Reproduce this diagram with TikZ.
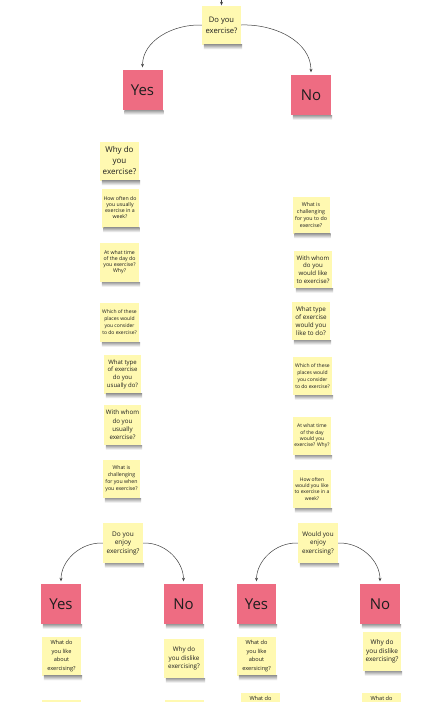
\documentclass[tikz,border=0pt]{standalone}
\usepackage{fontspec}
\setmainfont{Open Sans}
\usetikzlibrary{arrows.meta}
\definecolor{noteyellow}{HTML}{FFF9B1}
\definecolor{notepink}{HTML}{EE6C82}
\definecolor{ink}{HTML}{1E1E1E}
\newcommand\notefs[2]{\fontsize{#1}{#2}\selectfont}
\tikzset{
  note/.style={fill=noteyellow, minimum width=39pt, minimum height=39pt, inner sep=0pt, align=center, text=ink},
  answer/.style={fill=notepink, minimum width=40pt, minimum height=40pt, inner sep=0pt, text=ink, font=\notefs{15}{17}},
  conn/.style={draw=ink!85, line width=0.5pt, -{Stealth[length=3.5pt,width=3pt]}, shorten >=2.5pt},
  shadowbar/.style={top color=black!38, bottom color=white}
}
\begin{document}
\begin{tikzpicture}[x=1pt,y=-1pt]
\useasboundingbox[fill=white] (0,0) rectangle (442,702);

% top question
\node[note, font=\notefs{7.6}{11}] (q1) at (221.5,25) {Do you\\exercise?};
\node[answer] (yes1) at (142.5,90) {Yes};
\node[answer] (no1) at (311,95) {No};
\coordinate (topin) at (221.5,-12);

% left column
\node[note, font=\notefs{8}{11}] (l1) at (119.5,161) {Why do\\you\\exercise?};
\node[note, minimum width=37pt, font=\notefs{5.2}{6}] (l2) at (120,208) {How often do\\you usually\\exercise in a\\week?};
\node[note, font=\notefs{5.2}{6}] (l3) at (119.5,262.5) {At what time\\of the day do\\you exercise?\\Why?};
\node[note, font=\notefs{5}{7}] (l4) at (119.5,322.5) {Which of these\\places would\\you consider\\to do exercise?};
\node[note, minimum width=37pt, font=\notefs{6}{7.7}] (l5) at (122.5,374) {What type\\of exercise\\do you\\usually do?};
\node[note, minimum width=37pt, minimum height=40pt, font=\notefs{6.2}{8.4}] (l6) at (122.5,425) {With whom\\do you\\usually\\exercise?};
\node[note, minimum width=37pt, minimum height=38pt, font=\notefs{5.2}{7}] (l7) at (121.5,479) {What is\\challenging\\for you when\\you exercise?};

% right column
\node[note, minimum width=37pt, minimum height=37pt, font=\notefs{5.3}{7.2}] (r1) at (311,215) {What is\\challenging\\for you to do\\exercise?};
\node[note, minimum width=38pt, minimum height=37pt, font=\notefs{6.1}{7.8}] (r2) at (313,269.5) {With whom\\do you\\would like\\to exercise?};
\node[note, minimum width=38pt, minimum height=38pt, font=\notefs{6.3}{8.1}] (r3) at (311,321) {What type\\of exercise\\would you\\like to do?};
\node[note, minimum height=38pt, font=\notefs{5}{6.8}] (r4) at (312.5,376) {Which of these\\places would\\you consider\\to do exercise?};
\node[note, minimum width=38pt, minimum height=38pt, font=\notefs{5}{6.4}] (r5) at (312,436) {At what time\\of the day\\would you\\exercise? Why?};
\node[note, minimum width=38pt, minimum height=38pt, font=\notefs{5}{6.2}] (r6) at (312,489) {How often\\would you like\\to exercise in a\\week?};

% bottom left sub-tree
\node[note, minimum width=40pt, minimum height=40pt, font=\notefs{6.5}{8.5}] (q2) at (123,543) {Do you\\enjoy\\exercising?};
\node[answer] (yes2) at (61,604) {Yes};
\node[answer, minimum width=39pt] (no2) at (183.5,604) {No};
\node[note, font=\notefs{5.6}{8.5}] (ly2) at (61.5,656) {What do\\you like\\about\\exercising?};
\node[note, minimum width=40pt, font=\notefs{6.3}{8.6}] (ln2) at (184,658.5) {Why do\\you dislike\\exercising?};
\node[note, anchor=north, minimum height=12pt] (lb1) at (61.5,700) {};
\node[note, anchor=north, minimum height=12pt] (lb2) at (184.5,700) {};

% bottom right sub-tree
\node[note, minimum width=40pt, minimum height=40pt, font=\notefs{6.3}{8.5}] (q3) at (318,543) {Would you\\enjoy\\exercising?};
\node[answer, minimum width=39pt] (yes3) at (256.5,604) {Yes};
\node[answer] (no3) at (380,604) {No};
\node[note, font=\notefs{5.6}{8.5}] (ry2) at (256.5,656) {What do\\you like\\about\\exersicing?};
\node[note, minimum width=38pt, font=\notefs{6.5}{8.6}] (rn2) at (382,651.5) {Why do\\you dislike\\exercising?};
\node[note, anchor=north, minimum height=0pt, inner ysep=3.5pt, font=\notefs{5.6}{8}] (rb1) at (260.5,693) {What do};
\node[note, anchor=north, minimum height=0pt, inner ysep=3.5pt, font=\notefs{5.6}{8}] (rb2) at (381.5,693) {What do};

% shadows
\foreach \n in {q1,yes1,no1,l1,l2,l3,l4,l5,l6,l7,r1,r2,r3,r4,r5,r6,q2,yes2,no2,ly2,ln2,q3,yes3,no3,ry2,rn2}{
  \shade[shadowbar] ([xshift=2pt]\n.south west) rectangle ([xshift=1pt,yshift=-4.5pt]\n.south east);
}

% connectors
\draw[conn, shorten >=0pt] (topin) -- (q1.north);
\draw[conn] (q1.west) to[out=178, in=90] (yes1.north);
\draw[conn] (q1.east) to[out=2, in=90] (no1.north);
\draw[conn] (q2.west) to[out=178, in=90] (yes2.north);
\draw[conn] (q2.east) to[out=2, in=90] (no2.north);
\draw[conn] (q3.west) to[out=178, in=90] (yes3.north);
\draw[conn] (q3.east) to[out=2, in=90] (no3.north);
\end{tikzpicture}
\end{document}
